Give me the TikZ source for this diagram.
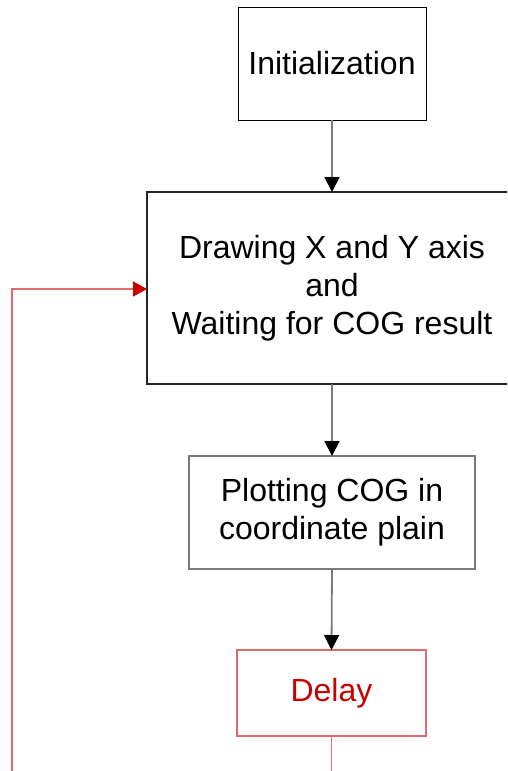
\documentclass[tikz,border=0pt]{standalone}
\usepackage{fontspec}
\setmainfont{Liberation Sans}
\usetikzlibrary{arrows.meta}
\definecolor{boxgrey}{HTML}{7A7A7A}
\definecolor{loopred}{HTML}{E06B6B}
\definecolor{textred}{HTML}{C80000}
\begin{document}
\begin{tikzpicture}[x=1pt,y=-1pt,
  stepbox/.style={draw, rectangle, inner sep=0pt, outer sep=0pt, align=center,
    font=\fontsize{32}{38}\selectfont},
  flow/.style={draw=boxgrey, line width=1.8pt,
    -{Triangle[length=15pt,width=15pt,color=black]}},
  loop/.style={draw=loopred, line width=1.8pt,
    -{Triangle[length=14pt,width=15pt,color=textred]}}]
  \useasboundingbox (0,0) rectangle (507,771);
  \clip (0,0) rectangle (507,771);

  % process boxes
  \node[stepbox, draw=black, line width=1pt, minimum width=188pt, minimum height=113pt]
    (init) at (332,63.5) {Initialization};
  \node[stepbox, draw=black!85, line width=1.4pt, minimum width=370pt, minimum height=192pt]
    (axis) at (332,288) {Drawing X and Y axis\\and\\Waiting for COG result};
  \node[stepbox, draw=boxgrey, line width=1.8pt, minimum width=286pt, minimum height=113pt]
    (plot) at (332,512.5) {Plotting COG in\\coordinate plain};
  \node[stepbox, draw=loopred, line width=1.5pt, text=textred, minimum width=189pt, minimum height=86pt]
    (delay) at (331.5,693) {Delay};

  % main flow
  \draw[flow] (init.south) -- (axis.north);
  \draw[flow] (axis.south) -- (plot.north);
  \draw[flow] (plot.south) -- (delay.north);

  % loop back from the delay to the axis step
  \coordinate (below) at (331.5,800);
  \coordinate (corner) at (12,800);
  \coordinate (entry) at (12,289);
  \draw[loop] (delay.south) -- (below) -- (corner) -- (entry) -- (entry -| axis.west);
\end{tikzpicture}
\end{document}
